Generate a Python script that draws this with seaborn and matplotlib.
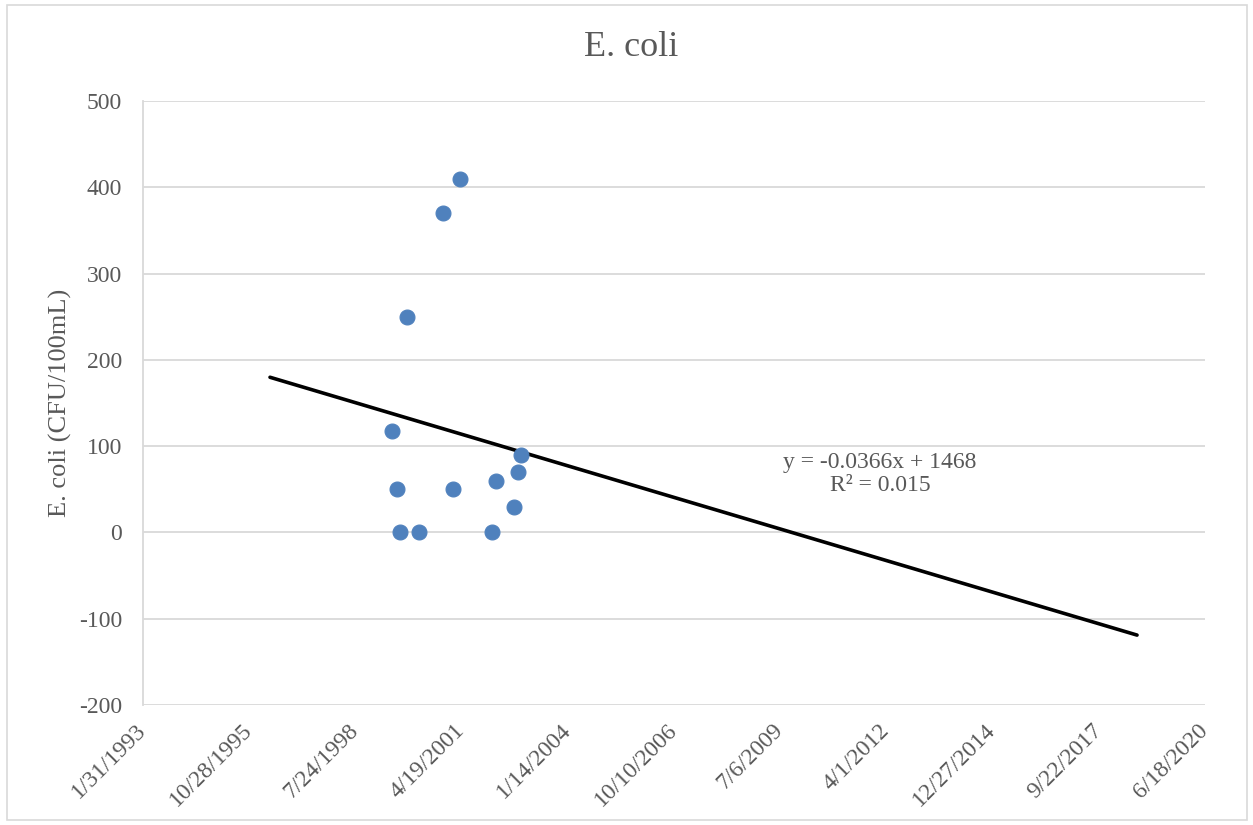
import matplotlib
matplotlib.use("Agg")
import matplotlib.pyplot as plt
from matplotlib.patches import Rectangle
import numpy as np
import pandas as pd
import seaborn as sns

# Sample dates and E. coli counts (CFU/100mL)
sample_dates = [
    "1999-07-04", "1999-08-22", "1999-09-17", "1999-11-19", "2000-03-11",
    "2000-10-28", "2001-01-25", "2001-04-01", "2002-01-30", "2002-03-06",
    "2002-08-25", "2002-09-29", "2002-10-30",
]
ecoli = [117, 50, 0, 250, 0, 370, 50, 410, 0, 60, 30, 70, 90]

# Linear trendline on spreadsheet serial dates: y = slope * x + intercept
trend_slope = -0.0366
trend_intercept = 1468
trend_r2 = 0.015
trend_dates = ["1996-05-11", "2018-09-17"]

# Axis ticks
x_tick_labels = ["1/31/1993", "10/28/1995", "7/24/1998", "4/19/2001", "1/14/2004",
                 "10/10/2006", "7/6/2009", "4/1/2012", "12/27/2014", "9/22/2017",
                 "6/18/2020"]
y_ticks = [-200, -100, 0, 100, 200, 300, 400, 500]

EXCEL_EPOCH = pd.Timestamp("1899-12-30")


def to_serial(dates):
    return np.array([(pd.Timestamp(d) - EXCEL_EPOCH).days for d in dates], dtype=float)


df = pd.DataFrame({"date": pd.to_datetime(sample_dates), "ecoli": ecoli})
trend_df = pd.DataFrame({
    "date": pd.to_datetime(trend_dates),
    "fit": trend_slope * to_serial(trend_dates) + trend_intercept,
})

sns.set_theme(style="white")
plt.rcParams["font.family"] = ["Liberation Serif", "DejaVu Serif"]
text_color = "#595959"
grid_color = "#d9d9d9"

W, H = 1253, 825
fig = plt.figure(figsize=(W / 100, H / 100), dpi=100)
ax = fig.add_axes([143 / W, 1 - 705 / H, (1205 - 143) / W, (705 - 101) / H])

# Chart-area border
fig.patches.append(Rectangle((7 / W, 1 - 820 / H), 1240 / W, 815 / H,
                             transform=fig.transFigure, fill=False,
                             edgecolor=grid_color, linewidth=1.2, zorder=0))

for y in y_ticks:
    ax.axhline(y, color=grid_color, linewidth=1.3, zorder=0)

sns.lineplot(data=trend_df, x="date", y="fit", ax=ax, color="black",
             linewidth=2.6, zorder=2)
sns.scatterplot(data=df, x="date", y="ecoli", ax=ax, color="#4f81bd",
                edgecolor="#4f81bd", s=115, linewidth=0.8, zorder=3)

x_ticks = pd.to_datetime(x_tick_labels, format="%m/%d/%Y")
ax.set_xlim(x_ticks[0], x_ticks[-1])
ax.set_ylim(-200, 500)
ax.set_xticks(x_ticks)
ax.set_xticklabels(x_tick_labels, rotation=45, ha="right", va="center",
                   rotation_mode="anchor")
ax.set_yticks(y_ticks)
ax.set_yticklabels([str(v) for v in y_ticks])
ax.tick_params(axis="both", length=0, labelsize=17, labelcolor=text_color)
ax.tick_params(axis="y", pad=15)
ax.tick_params(axis="x", pad=16)

for side in ["top", "right", "bottom"]:
    ax.spines[side].set_visible(False)
ax.spines["left"].set_color(grid_color)
ax.spines["left"].set_linewidth(1.3)

ax.set_xlabel("")
ax.set_ylabel("E. coli (CFU/100mL)", fontsize=19, color=text_color)
ax.yaxis.set_label_coords((72 - 143) / 1062, 0.5)

fig.text(631 / W, 1 - 47 / H, "E. coli", fontsize=26, color=text_color,
         ha="center", va="center")

fig.text(880 / W, 1 - 474 / H,
         f"y = {trend_slope}x + {trend_intercept}\nR² = {trend_r2}",
         ha="center", va="center", multialignment="center",
         fontsize=17, color=text_color, linespacing=1.1)

fig.savefig("out.png", dpi=100)
